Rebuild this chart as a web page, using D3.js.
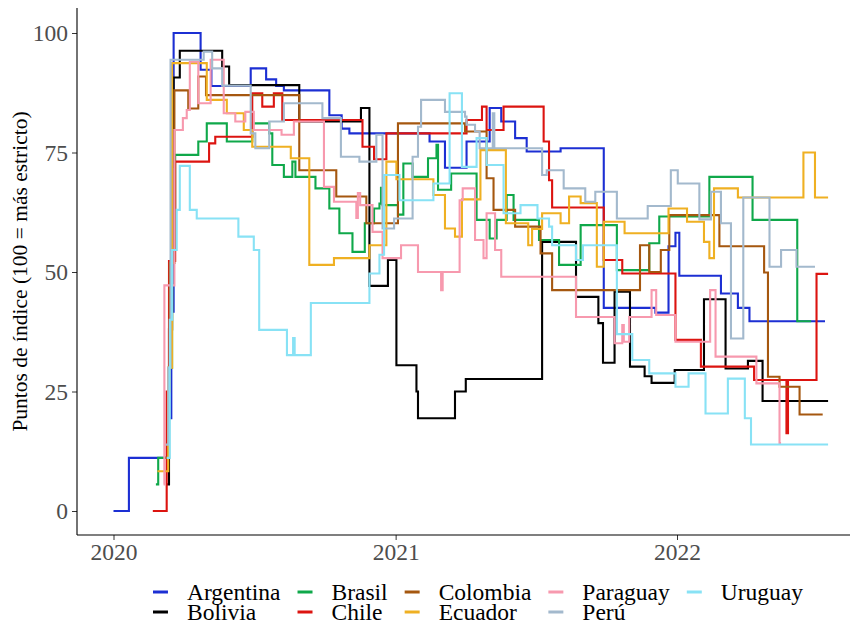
<!DOCTYPE html>
<html>
<head>
<meta charset="utf-8">
<script src="https://cdn.jsdelivr.net/npm/d3@7"></script>
<style>
  body { margin: 0; background: #ffffff; }
  #vis text { font-family: "Liberation Serif", "Times New Roman", serif; }
</style>
</head>
<body>
<div id="vis"></div>
<script>

////////////////////////////////////////
////////////// Data ////////////////////
////////////////////////////////////////

const countries = ["Argentina", "Bolivia", "Brasil", "Chile", "Colombia", "Ecuador", "Paraguay", "Perú", "Uruguay"];
const colors = ["#1c2fd3", "#000000", "#0fa84a", "#dc1410", "#a5570f", "#efb022", "#f799ae", "#a3b9cd", "#88e2f5"];

const argentina = [["2020-01-01",0],["2020-01-21",11.11],["2020-03-12",19.44],["2020-03-16",41.67],["2020-03-19",100],["2020-04-23",92.3],["2020-05-07",88.9],["2020-06-27",92.6],["2020-07-17",90.3],["2020-07-30",88.9],["2020-08-09",88],["2020-10-07",82.8],["2020-10-23",80],["2020-11-02",79],["2021-02-14",77.3],["2021-03-06",71.8],["2021-04-03",77.3],["2021-05-03",84.3],["2021-05-18",81.5],["2021-06-05",78],["2021-06-20",75.2],["2021-08-03",75.9],["2021-09-28",42.5],["2021-12-04",41.5],["2021-12-21",55.4],["2021-12-30",58.2],["2022-01-04",49.2],["2022-02-27",45.5],["2022-03-21",42.5],["2022-04-05",39.7],["2022-07-12",39.7]];

const bolivia = [["2020-03-10",5.56],["2020-03-13",38],["2020-03-17",72],["2020-03-19",90.7],["2020-03-27",96.3],["2020-05-21",93],["2020-05-30",89.1],["2020-08-29",81.5],["2020-11-17",84.3],["2020-11-28",47.1],["2020-12-22",52.5],["2021-01-02",30.5],["2021-01-28",25],["2021-01-30",19.4],["2021-03-19",25],["2021-04-02",27.6],["2021-07-10",56.3],["2021-08-23",44.8],["2021-09-21",39.3],["2021-09-27",31],["2021-10-12",45.9],["2021-11-01",30.2],["2021-11-20",28.2],["2021-11-29",26.8],["2021-12-29",29.5],["2022-02-05",44.3],["2022-03-05",29.8],["2022-04-03",31.4],["2022-04-22",23],["2022-07-16",23]];

const brasil = [["2020-02-25",5.56],["2020-02-28",11.11],["2020-03-13",30],["2020-03-17",55],["2020-03-21",74.5],["2020-04-20",77.3],["2020-05-01",81.1],["2020-05-27",77.3],["2020-06-29",81.1],["2020-07-21",79],["2020-07-25",72.4],["2020-08-09",69.9],["2020-08-20",73.1],["2020-08-24",69.9],["2020-09-19",67.5],["2020-10-07",63.3],["2020-10-20",58.1],["2020-11-06",54.2],["2020-11-22",60.2],["2020-12-04",63.3],["2020-12-11",64.3],["2020-12-13",67.6],["2020-12-15",64],["2021-01-04",62],["2021-01-11",72.7],["2021-01-23",69.9],["2021-02-12",73.8],["2021-02-23",76.6],["2021-02-25",67.2],["2021-03-14",70.6],["2021-04-16",60.9],["2021-05-03",57],["2021-05-12",60.9],["2021-05-25",66.1],["2021-06-03",60.9],["2021-07-06",56.7],["2021-08-01",51.5],["2021-08-29",59.8],["2021-10-15",50.4],["2021-11-26",56],["2021-12-09",61.6],["2022-02-12",69.9],["2022-04-09",60.9],["2022-06-06",39.7],["2022-06-24",39.7]];

const chile = [["2020-02-21",0],["2020-03-10",25],["2020-03-13",52.3],["2020-03-21",73.1],["2020-05-04",76.9],["2020-05-12",78.3],["2020-06-29",87.4],["2020-07-12",84.6],["2020-07-27",87.4],["2020-08-07",81.8],["2020-11-19",76.2],["2020-12-04",73.6],["2020-12-20",79],["2021-04-03",81.8],["2021-04-23",84.6],["2021-04-29",79.7],["2021-05-21",84.6],["2021-07-12",77.3],["2021-07-19",69.2],["2021-07-23",63.5],["2021-09-28",52.5],["2021-10-22",49.7],["2021-12-30",35.8],["2022-02-01",30.2],["2022-04-11",27.4],["2022-05-23",16.3],["2022-05-25",27.4],["2022-07-01",49.6],["2022-07-16",49.6]];

const colombia = [["2020-03-07",11.11],["2020-03-12",25],["2020-03-14",51.9],["2020-03-20",88],["2020-04-07",84.2],["2020-04-20",90.9],["2020-04-30",87],["2020-08-29",71.3],["2020-10-16",65.8],["2020-11-24",60.2],["2021-01-04",81.1],["2021-04-01",79.4],["2021-04-29",69.6],["2021-05-08",63],["2021-06-05",59.5],["2021-07-08",53.9],["2021-07-23",46.2],["2021-11-14",55.6],["2021-11-26",50],["2021-12-11",54.6],["2021-12-22",61.9],["2022-02-25",55.4],["2022-04-24",49.9],["2022-04-29",28.1],["2022-05-14",26],["2022-06-09",20.2],["2022-07-09",20.2]];

const ecuador = [["2020-02-27",8.33],["2020-03-12",30],["2020-03-17",93.7],["2020-05-01",86],["2020-05-27",83.2],["2020-06-18",79.7],["2020-06-29",76.2],["2020-08-18",73.8],["2020-09-11",51.5],["2020-10-13",52.9],["2020-11-28",55.6],["2020-12-20",73.1],["2021-01-02",69.4],["2021-02-19",66.1],["2021-03-06",59.1],["2021-03-19",57.4],["2021-03-28",65.2],["2021-04-21",75.5],["2021-05-24",60.2],["2021-06-22",55.6],["2021-06-27",59],["2021-07-10",62.3],["2021-08-03",60.2],["2021-08-14",65.8],["2021-08-29",64.4],["2021-09-19",51.1],["2021-09-28",60.5],["2021-10-25",58.1],["2021-12-21",63.3],["2022-01-14",60.5],["2022-02-05",56.3],["2022-02-12",52.9],["2022-02-18",67.5],["2022-03-21",65.6],["2022-06-14",75],["2022-06-29",65.6],["2022-07-16",65.6]];

const paraguay = [["2020-03-06",5.56],["2020-03-07",47.2],["2020-03-20",79.7],["2020-03-31",82.2],["2020-04-05",83.9],["2020-04-09",94],["2020-04-20",85.3],["2020-05-06",94.4],["2020-05-23",83.2],["2020-06-07",81.5],["2020-06-20",83.5],["2020-07-01",79.7],["2020-08-06",78.7],["2020-08-22",81.5],["2020-09-30",67.8],["2020-10-13",64.7],["2020-11-11",61.3],["2020-11-13",66.5],["2020-11-16",64],["2020-12-02",58.4],["2020-12-15",52.9],["2021-01-08",55.6],["2021-01-30",50],["2021-03-01",46.2],["2021-03-03",50],["2021-03-25",65],["2021-03-29",67.5],["2021-04-14",56.7],["2021-04-25",52.9],["2021-04-29",62.3],["2021-05-10",54.6],["2021-05-18",49],["2021-08-23",40.6],["2021-10-12",35.1],["2021-10-22",38.9],["2021-10-24",35.4],["2021-10-31",40.6],["2021-11-29",46.2],["2021-12-05",41],["2021-12-30",35.4],["2022-02-13",46.2],["2022-02-20",32.3],["2022-04-14",26.7],["2022-05-14",14.2],["2022-05-16",14.2]];

const peru = [["2020-03-09",13.89],["2020-03-12",30],["2020-03-15",94.4],["2020-04-27",96.1],["2020-05-08",92.6],["2020-05-21",89],["2020-06-27",79],["2020-07-03",75.9],["2020-07-21",81.5],["2020-08-09",85.3],["2020-09-28",82.2],["2020-10-22",74.1],["2020-11-15",73.1],["2020-12-07",78.7],["2020-12-15",59.1],["2020-12-30",61.2],["2021-01-23",74.1],["2021-01-30",80.4],["2021-02-03",86],["2021-03-06",83.5],["2021-04-01",82.5],["2021-04-03",80.8],["2021-04-14",79.4],["2021-04-20",75.9],["2021-05-07",83.2],["2021-05-09",75.9],["2021-07-10",70.3],["2021-07-16",71.3],["2021-08-07",67.5],["2021-09-04",64.7],["2021-09-17",66.8],["2021-10-15",61.2],["2021-11-24",63.8],["2021-12-24",71.3],["2022-01-02",68.5],["2022-01-30",61],["2022-02-14",66.8],["2022-02-27",60.2],["2022-03-12",36.1],["2022-03-28",65.6],["2022-05-01",51.1],["2022-05-16",54.6],["2022-06-05",51.1],["2022-06-29",51.1]];

const uruguay = [["2020-03-10",11.11],["2020-03-14",40],["2020-03-17",54.6],["2020-03-23",63],["2020-03-27",72.2],["2020-04-09",63],["2020-04-18",61.2],["2020-06-11",57.4],["2020-07-01",54.6],["2020-07-08",37.9],["2020-08-13",32.6],["2020-08-21",36.2],["2020-08-23",32.6],["2020-09-13",43.5],["2020-11-28",49.7],["2020-12-11",53.6],["2020-12-17",70.3],["2021-01-06",65],["2021-02-19",68.5],["2021-03-12",87.4],["2021-03-28",72],["2021-04-16",78],["2021-04-29",72.4],["2021-05-21",62.3],["2021-06-12",64],["2021-07-04",61.2],["2021-07-19",59.5],["2021-07-23",55.6],["2021-08-23",52.5],["2021-09-01",55.6],["2021-10-15",37],["2021-11-04",31.6],["2021-11-26",28.8],["2021-12-30",26],["2022-01-16",28.8],["2022-02-07",20.4],["2022-03-08",27.7],["2022-03-30",19.4],["2022-04-07",13.9],["2022-07-16",13.9]];

const seriesValues = [argentina, bolivia, brasil, chile, colombia, ecuador, paraguay, peru, uruguay];

const yTicks = [0, 25, 50, 75, 100];
const xTicks = ["2020-01-01", "2021-01-01", "2022-01-01"];
const yTitle = "Puntos de índice (100 = más estricto)";

////////////////////////////////////////
////////////// SVG Setup ///////////////
////////////////////////////////////////

const width = 850, height = 625;
const panel = { left: 77, top: 8, right: 850, bottom: 535 };

const svg = d3.select('#vis').append('svg')
    .attr('width', width)
    .attr('height', height);

////////////////////////////////////////
////////////// Scales //////////////////
////////////////////////////////////////

const parse = d3.utcParse('%Y-%m-%d');

const xScale = d3.scaleUtc()
    .domain([parse('2020-01-01'), parse('2022-01-01')])
    .range([113.5, 677]);

const yScale = d3.scaleLinear()
    .domain([0, 100])
    .range([511, 33]);

const series = countries.map((name, i) => ({
    name: name,
    color: colors[i],
    values: seriesValues[i].map(d => ({ date: parse(d[0]), value: d[1] }))
}));

////////////////////////////////////////
////////////// Lines ///////////////////
////////////////////////////////////////

const line = d3.line()
    .x(d => xScale(d.date))
    .y(d => yScale(d.value))
    .curve(d3.curveStepAfter);

svg.append('g')
    .selectAll('path')
    .data(series)
    .join('path')
    .attr('d', d => line(d.values))
    .attr('fill', 'none')
    .attr('stroke', d => d.color)
    .attr('stroke-width', 2.1);

////////////////////////////////////////
////////////// Axes ////////////////////
////////////////////////////////////////

const yAxis = svg.append('g')
    .attr('transform', `translate(${panel.left},0)`)
    .call(d3.axisLeft(yScale).tickValues(yTicks).tickSize(5).tickPadding(4));

const xAxis = svg.append('g')
    .attr('transform', `translate(0,${panel.bottom})`)
    .call(d3.axisBottom(xScale).tickValues(xTicks.map(parse)).tickFormat(d3.utcFormat('%Y')).tickSize(5).tickPadding(3));

[yAxis, xAxis].forEach(ax => {
    ax.attr('font-family', null).attr('font-size', null);
    ax.select('.domain').remove();
    ax.selectAll('.tick line').attr('stroke', '#333333');
    ax.selectAll('.tick text')
        .attr('fill', '#4d4d4d')
        .style('font-size', '23.5px');
});

// axis lines over the full panel
svg.append('line')
    .attr('x1', panel.left).attr('x2', panel.left)
    .attr('y1', panel.top).attr('y2', panel.bottom)
    .attr('stroke', '#000').attr('stroke-width', 1.1);

svg.append('line')
    .attr('x1', panel.left).attr('x2', panel.right)
    .attr('y1', panel.bottom).attr('y2', panel.bottom)
    .attr('stroke', '#000').attr('stroke-width', 1.1);

svg.append('text')
    .attr('transform', `translate(27,${(panel.top + panel.bottom) / 2}) rotate(-90)`)
    .attr('text-anchor', 'middle')
    .attr('fill', '#000')
    .style('font-size', '21.5px')
    .text(yTitle);

////////////////////////////////////////
////////////// Legend //////////////////
////////////////////////////////////////

const legend = svg.append('g');
const rows = 2;
const nCols = Math.ceil(series.length / rows);
const keyW = 15, textGap = 19, colGap = 17;
const rowY = [592, 612];

let colX = 0;
for (let c = 0; c < nCols; c++) {
    const g = legend.append('g').attr('transform', `translate(${colX},0)`);
    let maxW = 0;
    for (let r = 0; r < rows; r++) {
        const s = series[c * rows + r];
        if (!s) continue;
        g.append('line')
            .attr('x1', 0).attr('x2', keyW)
            .attr('y1', rowY[r]).attr('y2', rowY[r])
            .attr('stroke', s.color)
            .attr('stroke-width', 3);
        const t = g.append('text')
            .attr('x', keyW + textGap)
            .attr('y', rowY[r])
            .attr('dy', '0.32em')
            .attr('fill', '#000')
            .style('font-size', '23.5px')
            .text(s.name);
        maxW = Math.max(maxW, t.node().getComputedTextLength());
    }
    colX += keyW + textGap + maxW + colGap;
}
const legendW = colX - colGap;
legend.attr('transform', `translate(${478 - legendW / 2},0)`);

</script>
</body>
</html>
